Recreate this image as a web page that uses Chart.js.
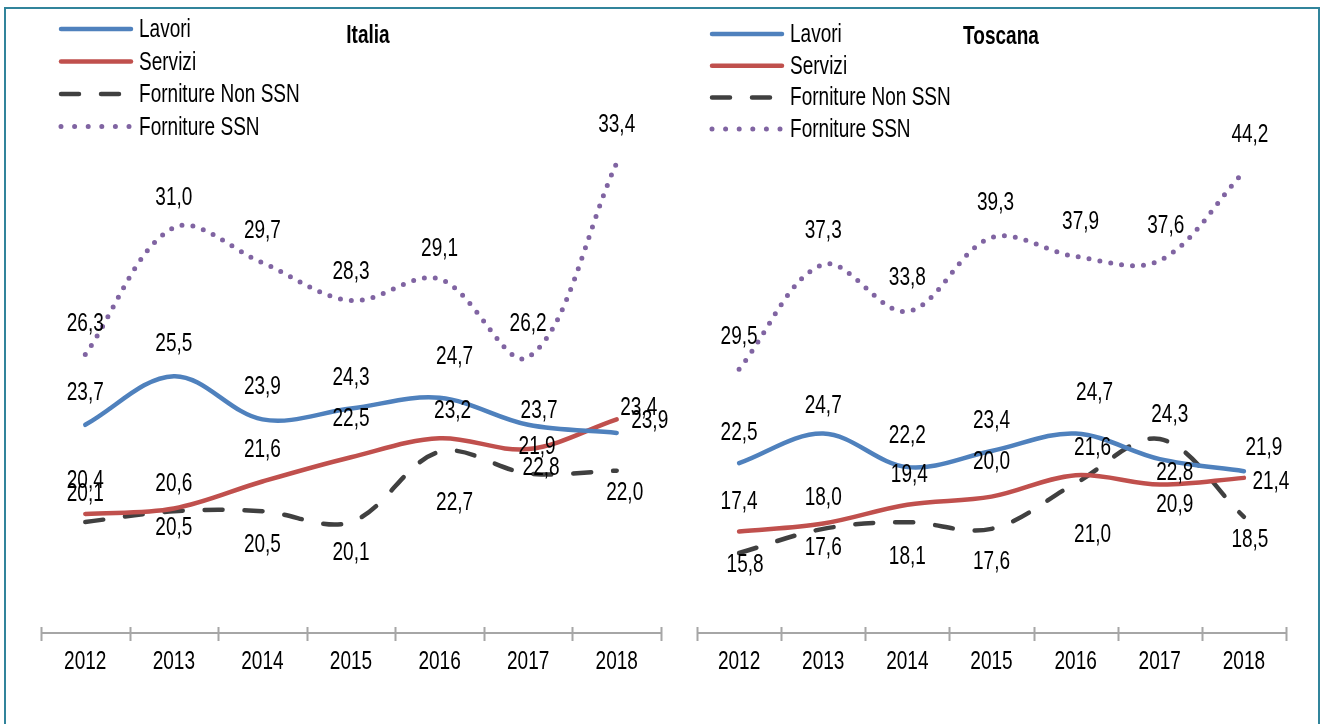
<!DOCTYPE html>
<html lang="it">
<head>
<meta charset="utf-8">
<title>Italia - Toscana</title>
<script src="https://cdn.jsdelivr.net/npm/chart.js@4.4.1/dist/chart.umd.min.js"></script>
<style>
  html, body { margin: 0; padding: 0; background: #fff; overflow: hidden; }
  #wrap { position: relative; width: 1321px; height: 724px; }
  #frame { position: absolute; left: 4px; top: 7px; width: 1312px; height: 760px; border: 2px solid #31849b; }
  canvas { position: absolute; top: 0; }
  #cItalia { left: 0; }
  #cToscana { left: 680px; }
</style>
</head>
<body>
<div id="wrap">
  <div id="frame"></div>
  <canvas id="cItalia" width="680" height="724"></canvas>
  <canvas id="cToscana" width="641" height="724"></canvas>
</div>
<script>
// ---- dati ----
const anni = ['2012', '2013', '2014', '2015', '2016', '2017', '2018'];

const italiaLavori      = [23.7, 25.5, 23.9, 24.3, 24.7, 23.7, 23.4];
const italiaServizi     = [20.4, 20.6, 21.6, 22.5, 23.2, 22.8, 23.9];
const italiaFornNonSSN  = [20.1, 20.5, 20.5, 20.1, 22.7, 21.9, 22.0];
const italiaFornSSN     = [26.3, 31.0, 29.7, 28.3, 29.1, 26.2, 33.4];

const toscanaLavori     = [22.5, 24.7, 22.2, 23.4, 24.7, 22.8, 21.9];
const toscanaServizi    = [17.4, 18.0, 19.4, 20.0, 21.6, 20.9, 21.4];
const toscanaFornNonSSN = [15.8, 17.6, 18.1, 17.6, 21.0, 24.3, 18.5];
const toscanaFornSSN    = [29.5, 37.3, 33.8, 39.3, 37.9, 37.6, 44.2];

// posizione delle etichette rispetto al punto (come nel grafico Excel originale)
const etichetteItalia = [
    { dx: [0, 0, 0, 0, 15, 11, 22], dy: [-32, -32, -32, -31, -41, -14, -25] },
    { dx: [0, 0, 0, 0, 13, 13, 33], dy: [-33, -25, -32, -38, -27, 19, 2] },
    { dx: [0, 0, 0, 0, 15, 9, 8],   dy: [-28, 17, 34, 31, 51, -26, 22] },
    { dx: [0, 0, 0, 0, 0, 0, 0],    dy: [-31, -30, -32, -29, -30, -33, -38] }
];
const etichetteToscana = [
    { dx: [0, 0, 0, 0, 19, 15, 20], dy: [-30, -28, -31, -30, -41, 14, -23] },
    { dx: [0, 0, 2, 0, 17, 15, 27], dy: [-30, -26, -30, -35, -27, 20, 4] },
    { dx: [6, 0, 0, 0, 17, 10, 6],  dy: [12, 19, 35, 33, 52, -24, 23] },
    { dx: [0, 0, 0, 4, 5, 6, 6],    dy: [-32, -34, -33, -35, -34, -34, -37] }
];

const FONT = '"Liberation Sans", Arial, sans-serif';
Chart.defaults.font.family = FONT;
Chart.defaults.color = '#000';

// testo "stretto" tipo Arial Narrow
function testo(ctx, txt, x, y, align, bold) {
    ctx.save();
    ctx.translate(x, y);
    ctx.scale(0.81, 1.08);
    ctx.font = (bold ? 'bold ' : '') + '23.5px ' + FONT;
    ctx.fillStyle = '#000';
    ctx.textAlign = align;
    ctx.textBaseline = 'middle';
    ctx.fillText(txt, 0, 0);
    ctx.restore();
}

// etichette dei valori
const etichettePlugin = {
    id: 'etichette',
    afterDatasetsDraw(chart, args, opts) {
        const ctx = chart.ctx;
        chart.data.datasets.forEach((ds, di) => {
            const off = opts.offsets[di];
            chart.getDatasetMeta(di).data.forEach((pt, i) => {
                const txt = ds.data[i].toFixed(1).replace('.', ',');
                testo(ctx, txt, pt.x + off.dx[i], pt.y + off.dy[i], 'center');
            });
        });
    }
};

// asse x con tacche a cavallo della linea ed etichette degli anni
const assePlugin = {
    id: 'asse',
    afterDraw(chart) {
        const ctx = chart.ctx;
        const xs = chart.scales.x;
        const y = chart.chartArea.bottom;
        const labels = xs.getLabels();
        const half = (xs.getPixelForValue(1) - xs.getPixelForValue(0)) / 2;
        ctx.save();
        ctx.strokeStyle = '#a6a6a6';
        ctx.lineWidth = 2;
        ctx.beginPath();
        ctx.moveTo(xs.getPixelForValue(0) - half, y);
        ctx.lineTo(xs.getPixelForValue(labels.length - 1) + half, y);
        for (let i = 0; i <= labels.length; i++) {
            const x = Math.round(xs.getPixelForValue(i) - half) + 0.5;
            ctx.moveTo(x, y - 6);
            ctx.lineTo(x, y + 8);
        }
        ctx.stroke();
        ctx.restore();
        labels.forEach((lab, i) => testo(ctx, lab, xs.getPixelForValue(i), y + 29, 'center'));
    }
};

// legenda verticale e titolo del pannello
const legendaPlugin = {
    id: 'legendaPannello',
    afterDraw(chart, args, opts) {
        const ctx = chart.ctx;
        chart.data.datasets.forEach((ds, i) => {
            const y = opts.y + i * opts.step;
            ctx.save();
            ctx.strokeStyle = ds.borderColor;
            ctx.lineWidth = ds.borderWidth;
            ctx.lineCap = 'round';
            ctx.setLineDash(ds.legendDash || ds.borderDash || []);
            ctx.beginPath();
            ctx.moveTo(opts.x, y);
            ctx.lineTo(opts.x + 70, y);
            ctx.stroke();
            ctx.restore();
            testo(ctx, ds.label, opts.x + 78, y + 1, 'left');
        });
        testo(ctx, opts.titolo, opts.titoloX, opts.titoloY, 'center', true);
    }
};

function creaSerie(lavori, servizi, nonSsn, ssn) {
    return [
        { label: 'Lavori', data: lavori, borderColor: '#4f81bd', borderWidth: 4.5 },
        { label: 'Servizi', data: servizi, borderColor: '#c0504d', borderWidth: 4.5 },
        { label: 'Forniture Non SSN', data: nonSsn, borderColor: '#404040', borderWidth: 4.5,
          borderDash: [18, 22] },
        { label: 'Forniture SSN', data: ssn, borderColor: '#8064a2', borderWidth: 5,
          borderDash: [0, 11], legendDash: [0, 13.6] }
    ].map(d => Object.assign(d, {
        fill: false, pointRadius: 0, tension: 0.35, borderCapStyle: 'round'
    }));
}

function creaPannello(id, datasets, cfg) {
    return new Chart(document.getElementById(id), {
        type: 'line',
        data: { labels: anni, datasets },
        options: {
            responsive: false,
            animation: false,
            events: [],
            layout: { padding: { left: cfg.padLeft, right: cfg.padRight, top: 20, bottom: 0 } },
            plugins: {
                legend: { display: false },
                title: { display: false },
                tooltip: { enabled: false },
                etichette: { offsets: cfg.etichette },
                legendaPannello: cfg.legenda
            },
            scales: {
                x: {
                    offset: true,
                    grid: { display: false, drawTicks: false },
                    border: { display: false },
                    ticks: { display: false },
                    afterFit: (s) => { s.height = 91; }
                },
                y: { display: false, min: cfg.yMin, max: cfg.yMax }
            }
        },
        plugins: [etichettePlugin, assePlugin, legendaPlugin]
    });
}

creaPannello('cItalia', creaSerie(italiaLavori, italiaServizi, italiaFornNonSSN, italiaFornSSN), {
    padLeft: 41, padRight: 19, yMin: 15.99, yMax: 38.69,
    etichette: etichetteItalia,
    legenda: { x: 61, y: 29, step: 32.5, titolo: 'Italia', titoloX: 368, titoloY: 36 }
});

creaPannello('cToscana', creaSerie(toscanaLavori, toscanaServizi, toscanaFornNonSSN, toscanaFornSSN), {
    padLeft: 17, padRight: 35, yMin: 9.84, yMax: 55.52,
    etichette: etichetteToscana,
    legenda: { x: 32, y: 34, step: 31.7, titolo: 'Toscana', titoloX: 321, titoloY: 37 }
});
</script>
</body>
</html>
